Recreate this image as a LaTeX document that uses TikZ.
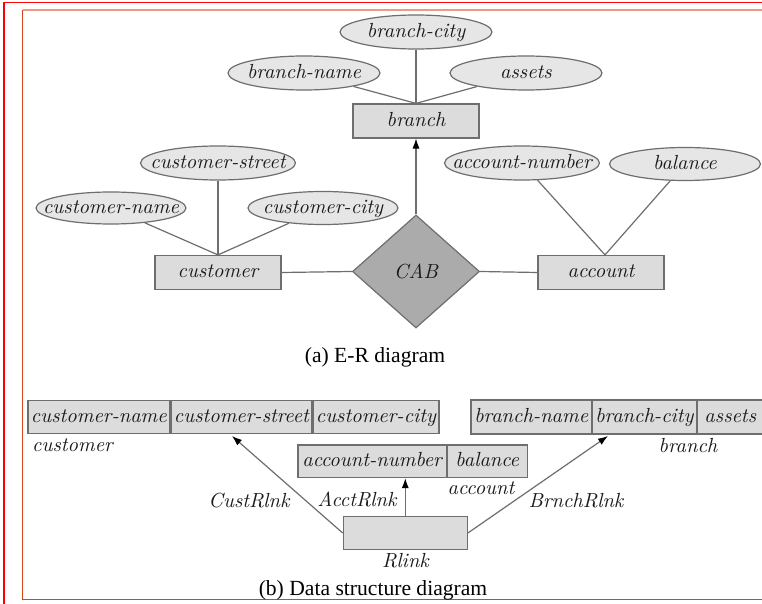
\documentclass[tikz,border=0pt]{standalone}
\usepackage{fontspec}
\newfontfamily\capfont{Liberation Serif}
\usetikzlibrary{shapes.geometric,arrows.meta}
\definecolor{lnc}{HTML}{6E6E6E}
\definecolor{attrfill}{HTML}{E6E6E6}
\definecolor{entfill}{HTML}{DCDCDC}
\definecolor{relfill}{HTML}{ABABAB}
\definecolor{txt}{HTML}{1A1A1A}
\definecolor{framered}{HTML}{FF0000}
\definecolor{frametop}{HTML}{EE9A85}
\definecolor{frameside}{HTML}{D2461C}
\newcommand{\ztext}[1]{\makebox[0pt]{#1}}
\begin{document}
\begin{tikzpicture}[x=0.5pt,y=-0.5pt,
  lbl/.style={font=\fontsize{10.2}{12}\selectfont\itshape\addfontfeature{FakeBold=0.6}, text=txt, inner sep=0pt},
  boxtext/.style={text height=1.6ex, text depth=0.4ex},
  attr/.style={ellipse, draw=lnc, fill=attrfill, line width=0.6pt, minimum width=76pt, minimum height=17pt, lbl, boxtext},
  ent/.style={rectangle, draw=lnc, fill=entfill, line width=0.6pt, minimum width=63pt, minimum height=17pt, lbl, boxtext},
  rel/.style={diamond, draw=lnc, fill=relfill, line width=0.6pt, aspect=1.12, minimum width=63.5pt, minimum height=56.5pt, lbl},
  field/.style={rectangle, draw=lnc, fill=entfill, line width=0.6pt, anchor=west, minimum height=16.3pt, lbl, boxtext},
  tag/.style={lbl, anchor=base},
  ln/.style={draw=lnc, line width=0.6pt},
  arr/.style={-{Latex[length=5pt,width=3.6pt,color=black]}},
  captext/.style={font=\capfont\fontsize{10.8}{13}\selectfont, text=black, inner sep=0pt, anchor=base}
]
\useasboundingbox (0,0) rectangle (762,604);
\fill[white] (0,0) rectangle (762,604);
% frames
\draw[framered, line width=0.8pt] (4,604) -- (4,2.5) -- (762,2.5);
\draw[frametop, line width=1.1pt] (22.5,10) -- (762,10);
\draw[frameside, line width=0.9pt] (22.5,10) -- (22.5,599.5) -- (762,599.5);

% ---------- (a) E-R diagram ----------
\node[attr] (bcity) at (416,32) {\ztext{branch-city}};
\node[attr] (bname) at (304,73) {\ztext{branch-name}};
\node[attr] (bassets) at (526,73) {\ztext{assets}};
\node[ent] (branch) at (416,121) {branch};

\node[attr, minimum width=77.5pt] (cstreet) at (218,163) {\ztext{customer-street}};
\node[attr, minimum height=16pt, minimum width=75pt] (cname) at (111,208) {\ztext{customer-name}};
\node[attr, minimum height=16.5pt, minimum width=75pt] (ccity) at (323,208) {\ztext{customer-city}};
\node[ent] (customer) at (218,272.5) {customer};

\node[attr, minimum width=77.5pt] (accnum) at (522,163) {\ztext{account-number}};
\node[attr, minimum width=75.5pt, minimum height=16.5pt] (bal) at (685,164) {\ztext{balance}};
\node[ent] (account) at (601,272.5) {account};

\node[rel] (cab) at (416,271.5) {CAB};

\draw[ln] (bcity) -- (branch.north);
\draw[ln] (bname) -- (branch.north);
\draw[ln] (bassets) -- (branch.north);
\draw[ln, arr] (cab.north) -- (branch.south);

\draw[ln] (cstreet) -- (customer.north);
\draw[ln] (cname) -- (customer.north);
\draw[ln] (ccity) -- (customer.north);
\draw[ln] (customer.east) -- (cab.west);

\draw[ln] (accnum) -- ([xshift=2pt]account.north);
\draw[ln] (bal) -- ([xshift=2pt]account.north);
\draw[ln] (cab.east) -- (account.west);

\node[captext] (capa) at (375,363) {(a) E-R diagram};

% ---------- (b) Data structure diagram ----------
\node[field, minimum width=71pt] (rcn) at (27.3,417) {customer-name};
\node[field, minimum width=70.35pt] (rcs) at (rcn.east) {customer-street};
\node[field, minimum width=63pt] (rcc) at (rcs.east) {customer-city};
\node[tag] (tcust) at (72.5,452) {customer};

\node[field, minimum width=60.35pt, minimum height=17pt] (rbn) at (470.3,417) {branch-name};
\node[field, minimum width=51.65pt, minimum height=17pt] (rbc) at (rbn.east) {branch-city};
\node[field, minimum width=33pt, minimum height=17pt] (ras) at (rbc.east) {assets};
\node[tag] (tbranch) at (688,453) {branch};

\node[field, minimum width=74.2pt] (ran) at (297.3,461.3) {account-number};
\node[field, minimum width=39.8pt] (rba) at (ran.east) {balance};
\node[tag] (tacct) at (481,495) {account};

\node[rectangle, draw=lnc, fill=entfill, line width=0.6pt, minimum width=62pt, minimum height=16.3pt, inner sep=0pt] (rlink) at (405.3,533) {};
\node[tag] (trlink) at (405.5,568) {Rlink};

\coordinate (custtip) at (232,436);
\coordinate (brtip) at (608,436);
\draw[ln, arr] (rlink.west) -- (custtip);
\draw[ln, arr] (rlink.north) -- (rlink.north |- ran.south);
\draw[ln, arr] (rlink.east) -- (brtip);

\node[tag] (lcust) at (249,508) {CustRlnk};
\node[tag] (lacct) at (357,507) {AcctRlnk};
\node[tag] (lbr) at (576,508) {BrnchRlnk};

\node[captext] (capb) at (373,596) {(b) Data structure diagram};
\end{tikzpicture}
\end{document}
